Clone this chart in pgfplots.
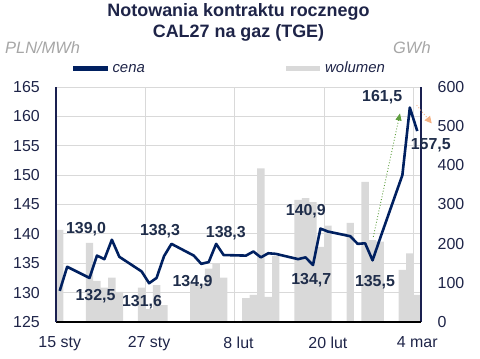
\documentclass[border=0pt]{standalone}
\usepackage{fontspec}
\setmainfont{Liberation Sans}
\usepackage{pgfplots}
\pgfplotsset{compat=1.18}
\usetikzlibrary{arrows.meta}
\definecolor{navyline}{HTML}{002060}
\definecolor{axisnavy}{HTML}{1A2050}
\definecolor{txt}{HTML}{1E2448}
\definecolor{lbl}{HTML}{1F2D4A}
\definecolor{bargray}{HTML}{D9D9D9}
\definecolor{gridgray}{HTML}{D9D9D9}
\definecolor{unitgray}{HTML}{A6A6A6}
\definecolor{arrgreen}{HTML}{5E9E3E}
\definecolor{arrpeach}{HTML}{F4B183}
\pgfplotsset{
  base/.style={
    at={(56bp,37bp)}, anchor=south west, scale only axis,
    width=365bp, height=235bp, xmin=0, xmax=49,
    major tick length=0pt,
    /pgf/number format/assume math mode=true,
    tick label style={font=\fontsize{16}{19}\selectfont, text=txt},
  }
}
\begin{document}
\begin{tikzpicture}
% grid + volume bars
\begin{axis}[base, ymin=0, ymax=600,
  ytick={0,75,...,600}, xtick={12,24,36,48},
  xticklabels={}, yticklabels={},
  grid=major, major grid style={draw=gridgray, line width=0.9bp},
  axis line style={draw=none}]
\addplot[ybar, bar width=1, fill=bargray, draw=none] coordinates {
(0.5,235) (4.5,202) (5.5,105) (6.5,88) (7.5,113) (8.5,77)
(11.5,88) (12.5,33) (13.5,94) (14.5,43)
(18.5,97) (19.5,97) (20.5,136) (21.5,150) (22.5,113)
(25.5,61) (26.5,69) (27.5,392) (28.5,64) (29.5,168)
(32.5,312) (33.5,316) (34.5,306) (35.5,192) (36.5,246)
(39.5,253) (41.5,358) (42.5,209) (43.5,205)
(46.5,133) (47.5,175) (48.5,69)};
\end{axis}
% right axis
\begin{axis}[base, ymin=0, ymax=600, axis y line*=right, axis x line=none,
  ytick={0,100,...,600},
  y axis line style={draw=axisnavy, line width=1.3bp},
  yticklabel style={anchor=west, inner sep=0pt, xshift=16.5bp}]
\addplot[draw=none] coordinates {(0.5,0)};
\end{axis}
% price axis
\begin{axis}[base, ymin=125, ymax=165, clip=false,
  axis x line*=bottom, axis y line*=left,
  ytick={125,130,...,165},
  xtick={0.5,12.5,24.5,36.5,48.5},
  xticklabels={15 sty,27 sty,8 lut,20 lut,4 mar},
  x axis line style={draw=black, line width=1.3bp},
  y axis line style={draw=axisnavy, line width=1.3bp},
  yticklabel style={anchor=east, inner sep=0pt, xshift=-16bp},
  xticklabel style={anchor=north, inner sep=0pt, yshift=-14.5bp}]
\addplot[navyline, line width=2.6bp, line join=round, mark=none] coordinates {
(0.5,130.3) (1.5,134.4) (4.5,132.5) (5.5,136.3) (6.5,135.7) (7.5,139.0) (8.5,136.1)
(11.5,133.6) (12.5,131.6) (13.5,132.5) (14.5,136.2) (15.5,138.3)
(18.5,136.3) (19.5,134.9) (20.5,135.2) (21.5,138.3) (22.5,136.4)
(25.5,136.3) (26.5,137.0) (27.5,136.0) (28.5,136.7) (29.5,136.6)
(32.5,135.7) (33.5,136.0) (34.5,134.7) (35.5,140.9) (36.5,140.4)
(39.5,139.6) (40.5,138.3) (41.5,138.4) (42.5,135.5) (43.5,139.2)
(46.5,150.0) (47.5,161.5) (48.5,157.5)};
\draw[arrgreen, dotted, line width=0.9bp, -{Triangle[length=7bp,width=6bp]}]
  (axis cs:42.6,139.5) -- (axis cs:46.18,160.5);
\draw[arrpeach, dotted, line width=0.9bp, -{Triangle[length=7bp,width=7bp]}]
  (axis cs:48.42,161.9) -- (axis cs:50.44,158.8);
\begin{scope}[every node/.style={anchor=base, inner sep=0pt, text=lbl,
    font=\fontsize{16}{19}\selectfont\bfseries}]
\node at (axis cs:4.03,139.98) {139,0};
\node at (axis cs:5.30,128.7) {132,5};
\node at (axis cs:11.55,127.7) {131,6};
\node at (axis cs:13.96,139.8) {138,3};
\node at (axis cs:18.33,131.0) {134,9};
\node at (axis cs:22.8,139.42) {138,3};
\node at (axis cs:33.54,143.1) {140,9};
\node at (axis cs:34.27,131.3) {134,7};
\node at (axis cs:42.82,131.0) {135,5};
\node at (axis cs:43.79,162.5) {161,5};
\node at (axis cs:50.31,154.28) {157,5};
\end{scope}
\end{axis}
% titles, units, legend
\node[anchor=base, inner sep=0pt, text=txt, font=\fontsize{18}{21}\selectfont\bfseries]
  at (238.5bp,342.3bp) {Notowania kontraktu rocznego};
\node[anchor=base, inner sep=0pt, text=txt, font=\fontsize{18}{21}\selectfont\bfseries]
  at (238.5bp,321.3bp) {CAL27 na gaz (TGE)};
\node[anchor=base west, inner sep=0pt, text=unitgray, font=\fontsize{16.5}{19}\selectfont\itshape]
  at (5bp,305bp) {PLN/MWh};
\node[anchor=base west, inner sep=0pt, text=unitgray, font=\fontsize{16.5}{19}\selectfont\itshape]
  at (393bp,305bp) {GWh};
\fill[navyline] (73.3bp,288bp) rectangle (108.3bp,293.3bp);
\node[anchor=base west, inner sep=0pt, text=txt, font=\fontsize{15}{18}\selectfont\itshape]
  at (112.3bp,286.3bp) {cena};
\fill[bargray] (286bp,288bp) rectangle (320bp,293.3bp);
\node[anchor=base west, inner sep=0pt, text=txt, font=\fontsize{15}{18}\selectfont\itshape]
  at (325bp,286.3bp) {wolumen};
\pgfresetboundingbox
\path[use as bounding box] (0,0) rectangle (480bp,359bp);
\end{tikzpicture}
\end{document}
